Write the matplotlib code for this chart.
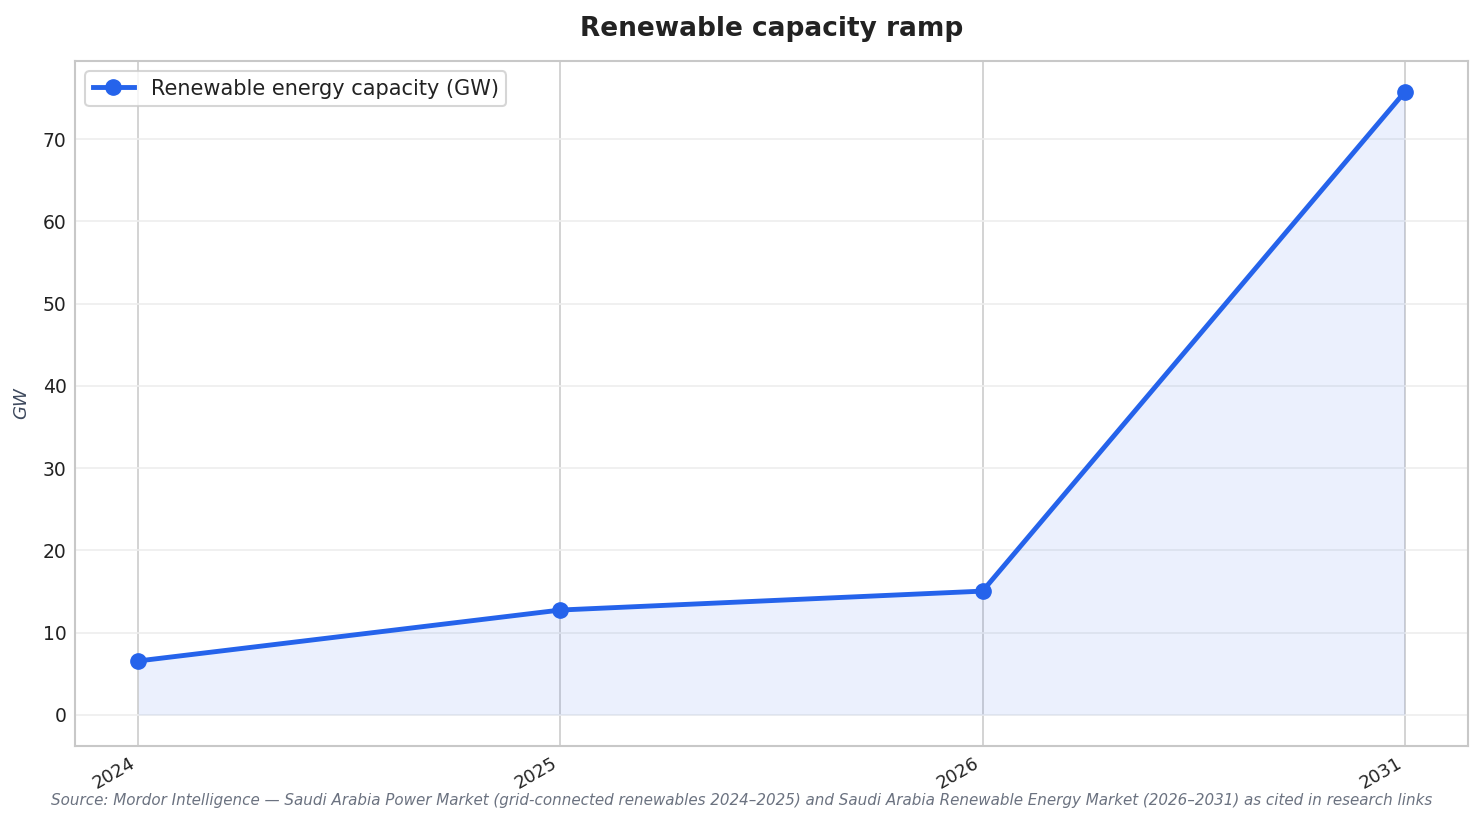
import matplotlib
matplotlib.use('Agg')
import matplotlib.pyplot as plt
import numpy as np

years = ['2024', '2025', '2026', '2031']
capacity_gw = [6.55, 12.74, 15.04, 75.7]

source = ('Source: Mordor Intelligence \u2014 Saudi Arabia Power Market (grid-connected renewables 2024\u20132025) '
          'and Saudi Arabia Renewable Energy Market (2026\u20132031) as cited in research links')

plt.rcParams['font.family'] = ['DejaVu Sans']

fig, ax = plt.subplots(figsize=(14.84, 8.24), dpi=100)
fig.subplots_adjust(left=0.0505, right=0.9892, top=0.926, bottom=0.0947)

x = np.arange(len(years))
blue = '#2563eb'
ax.fill_between(x, capacity_gw, 0, color=blue, alpha=0.09, linewidth=0)
ax.plot(x, capacity_gw, color=blue, linewidth=3.5, marker='o', markersize=11,
        label='Renewable energy capacity (GW)')

ax.set_xticks(x)
ax.set_xticklabels(years, rotation=30, ha='right', fontsize=13, color='#222222')
ax.tick_params(axis='y', labelsize=13.5, labelcolor='#222222', length=0, pad=6)
ax.tick_params(axis='x', length=0, pad=6)

ax.grid(axis='x', color='#cccccc', linewidth=1.2)
ax.grid(axis='y', color='#eeeeee', linewidth=1.2)
ax.set_axisbelow(True)
for s in ax.spines.values():
    s.set_color('#c8c8c8')
    s.set_linewidth(1.5)

ax.set_ylabel('GW', fontsize=13, style='italic', color='#3f4a5e', labelpad=9)
ax.set_title('Renewable capacity ramp', fontsize=19, fontweight='bold', color='#222222', pad=18)

leg = ax.legend(loc='upper left', fontsize=15, frameon=True, borderpad=0.35,
                handlelength=2.0, handletextpad=0.8)
leg.get_frame().set_edgecolor('#cccccc')
leg.get_frame().set_linewidth(1.5)
for t in leg.get_texts():
    t.set_color('#222222')

fig.text(0.5, 0.029, source, ha='center', va='center', fontsize=10.9, style='italic', color='#6b7280')

fig.savefig('out.png', dpi=100)
